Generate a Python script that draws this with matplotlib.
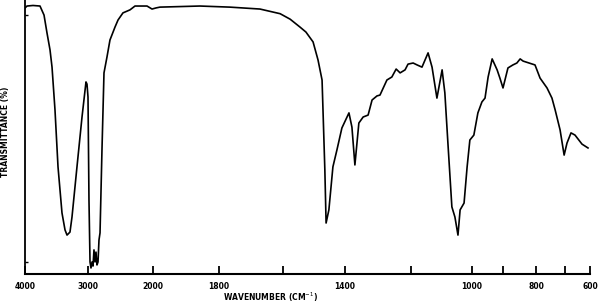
import numpy as np
import matplotlib
matplotlib.use('Agg')
import matplotlib.pyplot as plt

# IR spectrum: wavenumber (cm-1) and transmittance (%)
wavenumber = [4000, 3968, 3873, 3762, 3698, 3651, 3603, 3571, 3524, 3476,
              3413, 3365, 3333, 3286, 3254, 3175, 3095, 3032, 3016, 3000,
              2985, 2969, 2954, 2938, 2923, 2908, 2892, 2877, 2862, 2846,
              2831, 2815, 2785, 2754, 2708, 2662, 2585, 2538, 2462, 2354,
              2277, 2092, 2015, 1991, 1979, 1858, 1766, 1672, 1609, 1577,
              1545, 1526, 1503, 1487, 1474, 1471, 1465, 1461, 1452, 1439,
              1426, 1410, 1388, 1379, 1370, 1358, 1345, 1330, 1318, 1303,
              1294, 1273, 1258, 1245, 1233, 1218, 1209, 1193, 1180, 1164,
              1144, 1131, 1115, 1098, 1089, 1079, 1066, 1056, 1046, 1039,
              1026, 1016, 1007, 994, 981, 968, 958, 948, 935, 919,
              910, 900, 885, 870, 858, 848, 839, 803, 786, 762,
              745, 734, 717, 703, 692, 676, 660, 632, 608]
transmittance = [97.1, 97.8, 98.0, 97.8, 94.5, 88.0, 81.8, 75.5, 59.9, 39.1,
                 22.3, 16.1, 14.2, 15.3, 20.8, 39.1, 57.3, 70.1, 69.3, 64.6,
                 27.0, 4.4, 2.2, 4.4, 2.9, 8.8, 4.4, 8.0, 3.3, 4.4,
                 12.4, 15.0, 45.3, 73.4, 79.2, 85.4, 90.1, 92.7, 95.3, 96.4,
                 97.8, 97.8, 96.7, 97.1, 97.4, 97.8, 97.4, 96.7, 95.0, 93.0,
                 90.1, 88.3, 84.7, 78.1, 70.8, 59.9, 38.0, 18.6, 23.4, 39.1,
                 45.3, 53.3, 58.8, 53.6, 39.8, 55.1, 57.3, 58.0, 63.5, 65.0,
                 65.3, 70.8, 71.9, 74.8, 73.4, 74.5, 76.6, 77.0, 76.3, 75.5,
                 80.7, 75.5, 64.2, 74.5, 66.1, 47.8, 24.5, 20.8, 14.2, 23.4,
                 25.9, 39.1, 48.9, 50.7, 58.8, 62.8, 64.2, 71.9, 78.5, 74.5,
                 71.5, 67.9, 75.2, 76.3, 77.0, 78.5, 77.7, 76.3, 71.5, 67.9,
                 64.2, 59.9, 52.6, 43.4, 47.8, 51.5, 50.7, 47.4, 46.0]

tick_wn = [4000, 3000, 2000, 1800, 1600, 1400, 1200, 1000, 900, 800, 700, 600]
tick_lbl = ['4000', '3000', '2000', '1800', '', '1400', '', '1000', '', '800', '', '600']

# chart paper scale: 4000-2000 compressed, below 2000 expanded
scale_wn = [0, 600, 700, 800, 900, 1000, 1200, 1400, 1600, 1800, 2000, 3000, 4000, 10000]
scale_pos = [-150, 0, 25, 54, 87, 118, 179, 245, 307, 371, 437, 502, 565, 943]


def fwd(w):
    return np.interp(w, scale_wn, scale_pos)


def inv(p):
    return np.interp(p, scale_pos, scale_wn)


plt.rcParams['font.family'] = ['DejaVu Sans']
fig = plt.figure(figsize=(5.99, 3.03), dpi=100)
ax = fig.add_axes([25 / 599, 29 / 303, 565 / 599, 274 / 303])

ax.plot(wavenumber, transmittance, color='black', lw=1.2)
ax.set_xscale('function', functions=(fwd, inv))
ax.set_xlim(4000, 600)
ax.set_ylim(0, 100)

ax.set_xticks(tick_wn)
ax.set_xticklabels(tick_lbl, fontsize=5.5, fontweight='bold')
ax.xaxis.set_minor_locator(matplotlib.ticker.NullLocator())
ax.tick_params(axis='x', direction='in', length=6, width=1.3, pad=6)

ax.set_yticks([4.4, 94.5])
ax.set_yticklabels([])
ax.tick_params(axis='y', direction='in', length=2, width=1)

ax.spines['top'].set_visible(False)
ax.spines['right'].set_visible(False)
ax.spines['left'].set_linewidth(1.3)
ax.spines['bottom'].set_linewidth(1.5)

ax.set_xlabel('WAVENUMBER (CM$^{-1}$)', fontsize=5.5, fontweight='bold')
ax.xaxis.set_label_coords(0.434, -0.06)
ax.set_ylabel('TRANSMITTANCE (%)', fontsize=5.5, fontweight='bold')
ax.yaxis.set_label_coords(-0.027, 0.52)

fig.savefig('out.png', dpi=100)
